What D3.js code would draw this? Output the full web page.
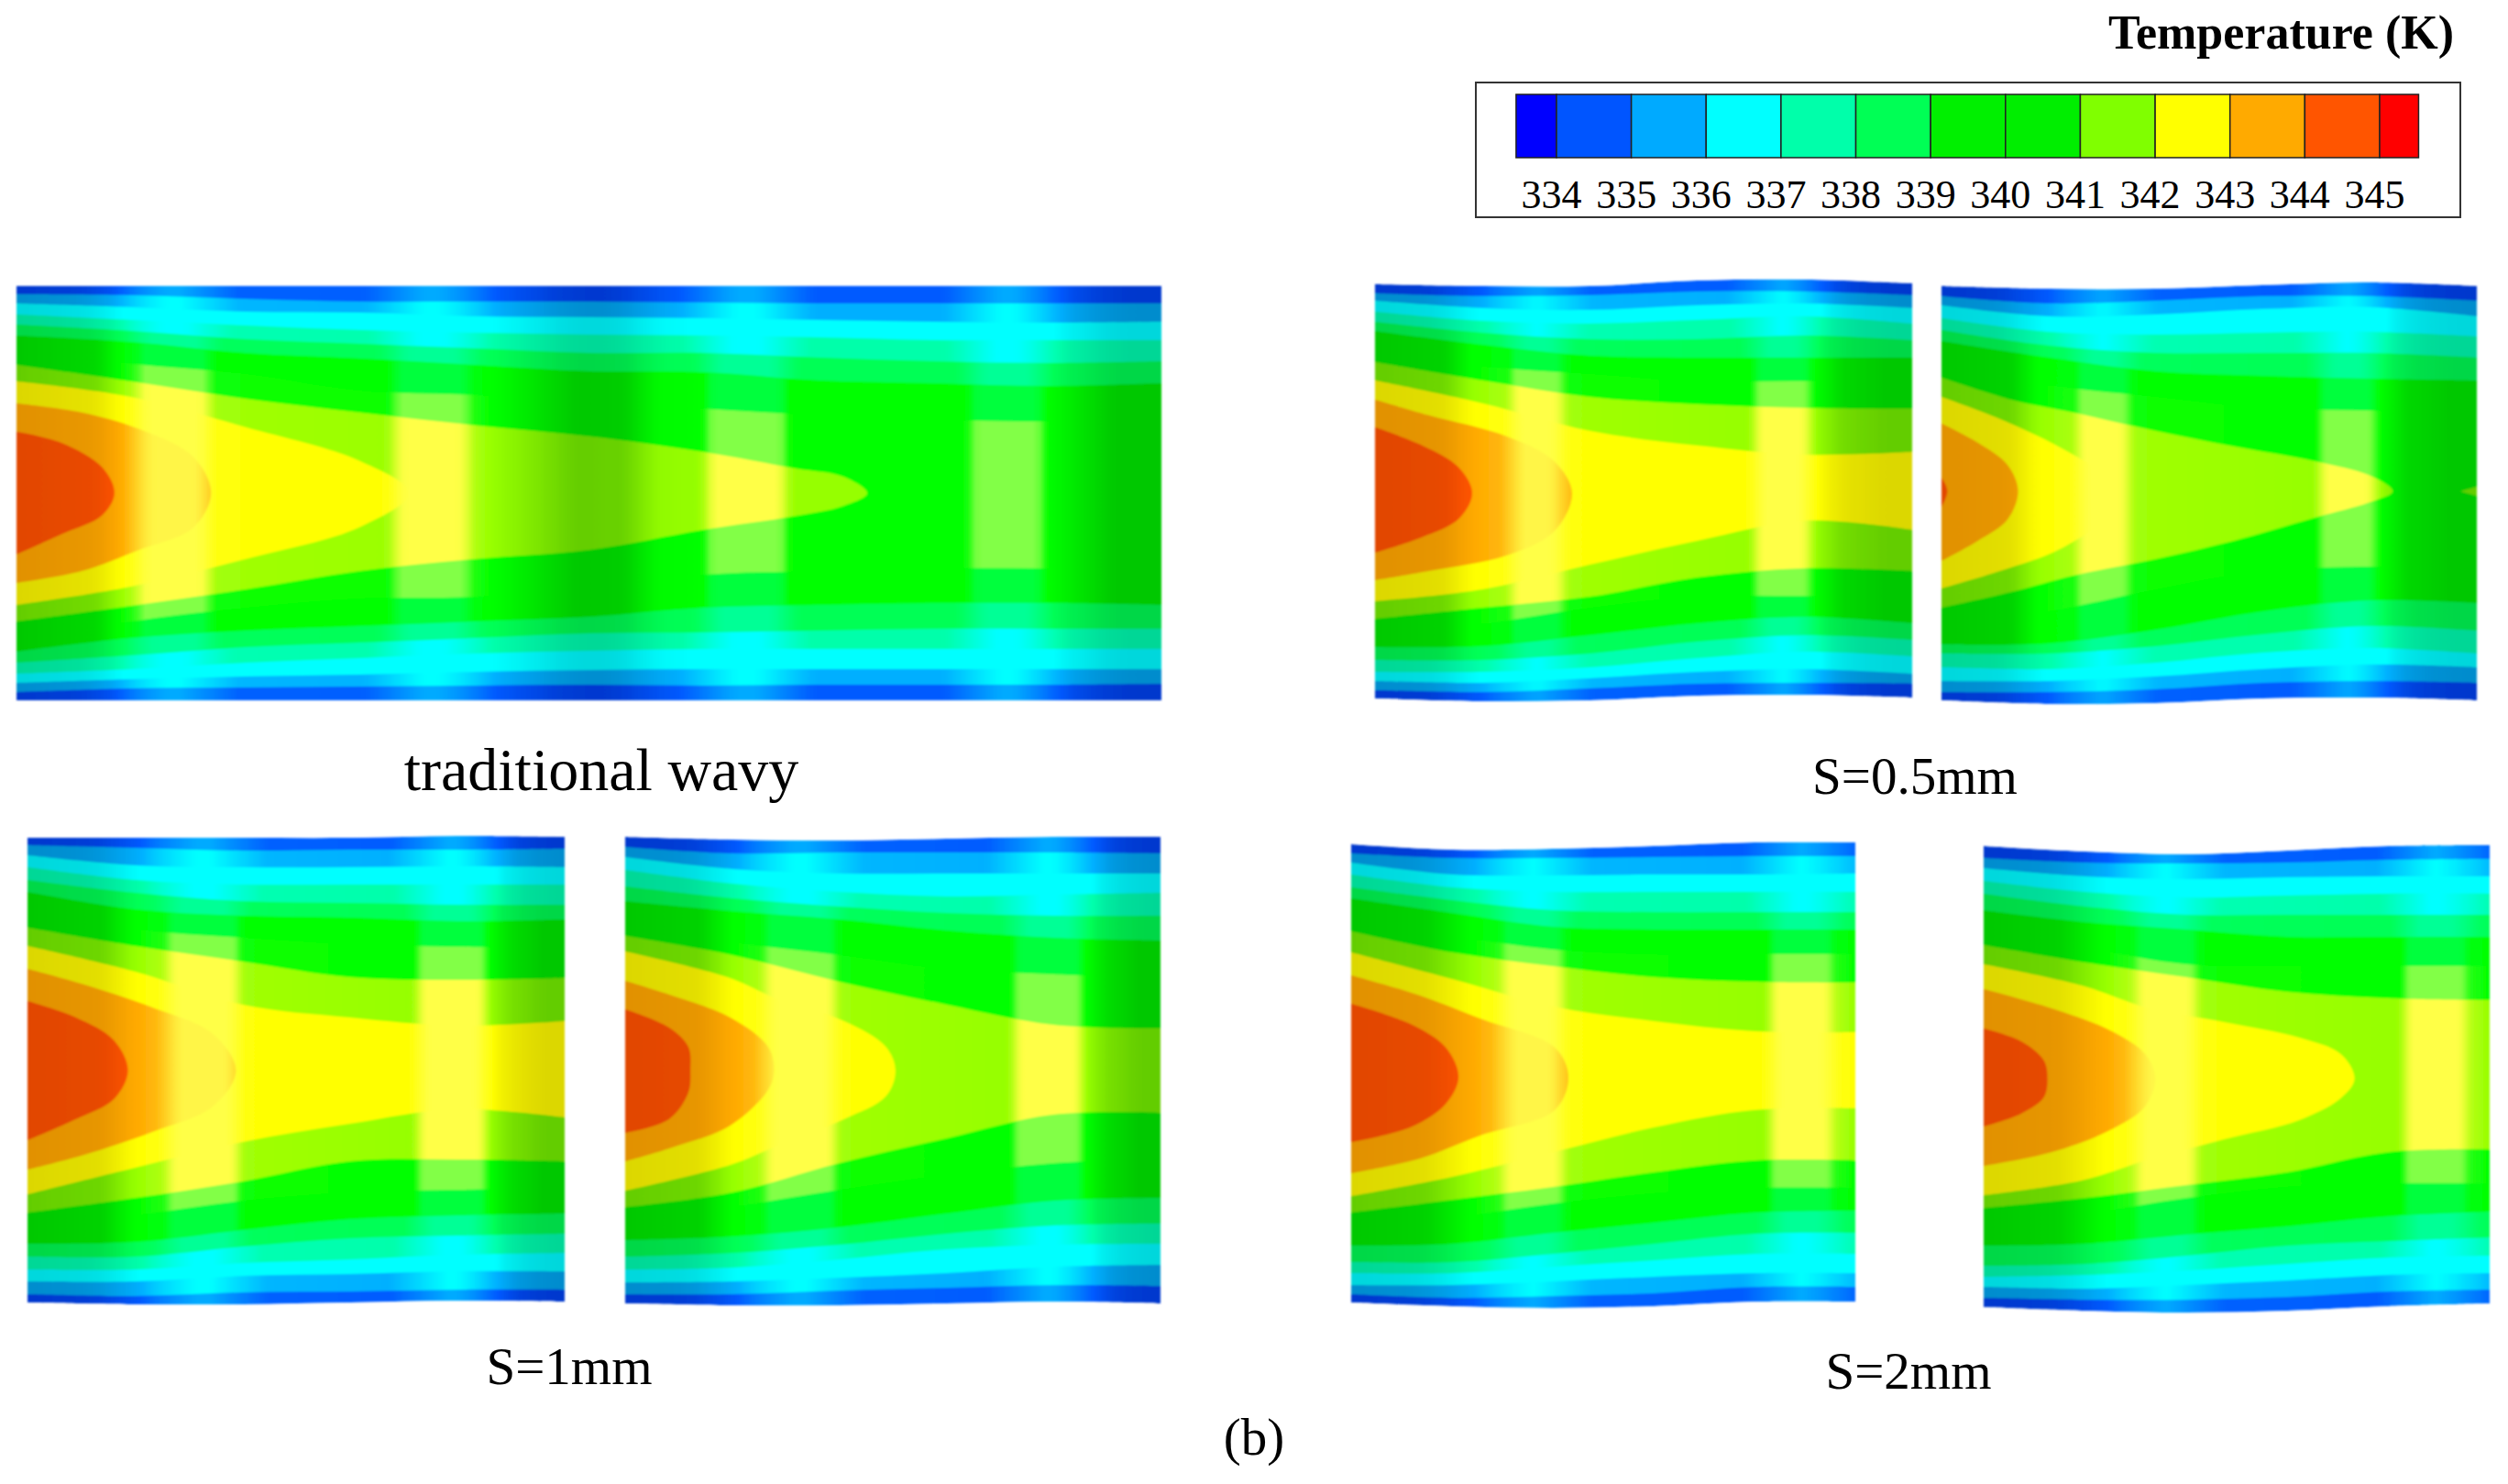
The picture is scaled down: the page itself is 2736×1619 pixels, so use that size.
<!DOCTYPE html>
<html>
<head>
<meta charset="utf-8">
<script src="https://cdn.jsdelivr.net/npm/d3@7"></script>
<style>
  html, body { margin: 0; background: #fff; }
  svg { display: block; }
  text { font-family: "Liberation Serif", serif; fill: #000; }
</style>
</head>
<body>
<div id="chart"></div>
<script>
// temperature legend
const legendEdges = [333.46, 334, 335, 336, 337, 338, 339, 340, 341, 342, 343, 344, 345, 345.52];
const legendColors = ["#0000ff", "#0055ff", "#00aaff", "#00ffff", "#00ffaa", "#00ff55", "#00f000", "#00ee00", "#80ff00", "#ffff00", "#ffaa00", "#ff5500", "#ff0000"];
const legendTicks = [334, 335, 336, 337, 338, 339, 340, 341, 342, 343, 344, 345];

// band colours, outermost (coldest) first: in shadow, flat, lit
const bandShadow = ["#0037cd", "#008ccd", "#00d7dc", "#00d796", "#00d746", "#00c800", "#00c800", "#64cd00", "#dcd700", "#e19100", "#e14600"];
const bandFlat = ["#005aff", "#00afff", "#00ffff", "#00ffaa", "#00ff55", "#00ff00", "#00ff00", "#96ff00", "#ffff00", "#ffaa00", "#ff5500"];
const bandLit = ["#00aaff", "#00ffff", "#00ffff", "#00ffff", "#00ff96", "#00ff3c", "#82ff46", "#ffff46", "#ffff46", "#fff546", "#ffaa00"];
// how far the lighting edge smears in each band, px
const bandSoft = [28, 28, 20, 24, 14, 3, 3, 6, 10, 12, 10];

// stations along the channel (0 = inlet, 1 = outlet)
const xLong = [0, .1, .2, .3, .4, .5, .6, .7, .8, .9, 1];
const xShort = [0, .2, .4, .6, .8, 1];

// each contour: [band, stations, offset above centre line, offset below centre line]
const wavyContours = [
  [0, xLong, [226, 226, 226, 226, 226, 226, 226, 226, 226, 226, 226], [226, 226, 226, 226, 226, 226, 226, 226, 226, 226, 226]],
  [1, xLong, [217, 216, 212, 209, 209, 209, 208, 207, 207, 207, 207], [217, 213, 212, 211, 210, 209, 210, 209, 209, 209, 208]],
  [2, xLong, [207, 203, 198, 197, 193, 192, 191, 189, 187, 186, 187], [207, 203, 200, 198, 195, 193, 192, 192, 192, 192, 192]],
  [3, xLong, [195, 189, 183, 178, 175, 173, 172, 170, 167, 167, 167], [197, 192, 185, 180, 175, 172, 170, 170, 170, 170, 170]],
  [4, xLong, [184, 177, 168, 163, 158, 153, 153, 148, 144, 142, 144], [185, 177, 168, 163, 158, 153, 152, 150, 148, 148, 148]],
  [5, xLong, [172, 165, 153, 147, 140, 133, 132, 123, 120, 117, 120], [173, 158, 150, 145, 140, 135, 125, 122, 120, 120, 122]],
  [6, xLong, [155, 141, 130, 112, 107, 100, 92, 85, 80, 78, 78], [165, 140, 125, 115, 113, 105, 89, 85, 82, 82, 82]],
  [7, [0, .1, .2, .3, .4, .5, .6, .68, .722, .743], [140, 122, 103, 88, 74, 62, 45, 27, 18, 0], [140, 123, 105, 85, 72, 62, 40, 25, 14, 0]],
  [8, [0, .1, .2, .3, .343], [122, 105, 72, 35, 0], [122, 102, 72, 37, 0]],
  [9, [0, .057, .107, .154, .17], [98, 88, 70, 40, 0], [98, 85, 62, 38, 0]],
  [10, [0, .039, .075, .0856], [67, 55, 28, 0], [67, 45, 24, 0]]
];

const s05aContours = [
  [0, xShort, [228, 226, 226, 232, 233, 229], [224, 227, 226, 221, 220, 223]],
  [1, xShort, [218, 215, 216, 220, 220, 216], [215, 217, 213, 208, 207, 208]],
  [2, xShort, [210, 202, 200, 205, 207, 202], [205, 207, 202, 195, 192, 197]],
  [3, xShort, [198, 188, 185, 189, 193, 185], [195, 195, 190, 180, 173, 178]],
  [4, xShort, [187, 175, 168, 168, 172, 167], [182, 182, 175, 162, 155, 160]],
  [5, xShort, [177, 162, 150, 148, 148, 148], [168, 167, 155, 142, 135, 142]],
  [6, xShort, [153, 138, 130, 122, 122, 120], [160, 143, 125, 113, 112, 113]],
  [7, xShort, [143, 123, 105, 97, 93, 92], [137, 125, 113, 92, 82, 85]],
  [8, xShort, [123, 98, 68, 52, 42, 45], [118, 105, 78, 52, 30, 40]],
  [9, [0, .1, .245, .333, .367], [102, 85, 62, 35, 0], [95, 85, 68, 42, 0]],
  [10, [0, .088, .156, .181], [72, 52, 28, 0], [65, 48, 28, 0]]
];

const s05bContours = [
  [0, xShort, [224, 221, 221, 225, 228, 224], [228, 232, 231, 226, 225, 228]],
  [1, xShort, [213, 205, 208, 213, 213, 208], [219, 219, 216, 209, 207, 209]],
  [2, xShort, [203, 191, 193, 199, 201, 191], [207, 207, 202, 194, 189, 192]],
  [3, xShort, [189, 174, 171, 173, 174, 169], [192, 194, 187, 176, 171, 177]],
  [4, xShort, [176, 159, 151, 151, 151, 146], [177, 177, 169, 156, 147, 152]],
  [5, xShort, [164, 146, 131, 126, 123, 121], [167, 166, 151, 131, 119, 122]],
  [6, xShort, [143, 116, 103, 91, 88, 86], [147, 131, 107, 87, 82, 82]],
  [7, [0, .136, .246, .4, .546, .696, .805, .843], [124, 99, 86, 66, 49, 33, 16, 0], [127, 109, 92, 74, 54, 29, 11, 0]],
  [7, [.969, 1], [0, 5], [0, 5]],
  [8, [0, .109, .218, .3, .32], [103, 79, 49, 19, 0], [106, 87, 64, 31, 0]],
  [9, [0, .068, .123, .143], [74, 53, 29, 0], [76, 54, 31, 0]],
  [10, [0, .006, .011], [15, 9, 0], [17, 10, 0]]
];

const s1aContours = [
  [0, xShort, [254, 254, 254, 254, 256, 255], [253, 255, 255, 253, 251, 252]],
  [1, xShort, [246, 243, 240, 241, 241, 242], [244, 246, 242, 241, 239, 239]],
  [2, xShort, [235, 224, 222, 222, 223, 222], [230, 230, 224, 222, 219, 219]],
  [3, xShort, [222, 208, 203, 203, 203, 203], [217, 217, 210, 206, 201, 199]],
  [4, xShort, [208, 194, 185, 183, 181, 181], [203, 203, 192, 183, 180, 178]],
  [5, xShort, [195, 176, 169, 167, 163, 165], [189, 187, 174, 162, 158, 156]],
  [6, xShort, [174, 154, 145, 138, 135, 134], [174, 158, 142, 133, 130, 128]],
  [7, xShort, [156, 136, 119, 102, 99, 101], [155, 139, 121, 99, 97, 99]],
  [8, xShort, [136, 108, 72, 58, 49, 54], [135, 106, 78, 58, 42, 51]],
  [9, [0, .105, .232, .345, .388], [111, 94, 69, 40, 0], [108, 92, 67, 39, 0]],
  [10, [0, .09, .161, .187], [76, 58, 33, 0], [76, 53, 31, 0]]
];

const s1bContours = [
  [0, xShort, [255, 252, 251, 253, 255, 255], [254, 256, 256, 254, 252, 254]],
  [1, xShort, [244, 237, 238, 238, 238, 237], [244, 244, 240, 237, 234, 235]],
  [2, xShort, [233, 220, 215, 215, 215, 215], [231, 230, 226, 221, 214, 212]],
  [3, xShort, [219, 204, 195, 190, 192, 194], [217, 215, 206, 195, 190, 189]],
  [4, xShort, [201, 188, 179, 172, 169, 169], [203, 199, 190, 178, 169, 167]],
  [5, xShort, [185, 174, 165, 153, 145, 142], [185, 181, 171, 156, 142, 139]],
  [6, xShort, [161, 140, 126, 111, 105, 101], [167, 149, 130, 114, 101, 96]],
  [7, xShort, [147, 126, 97, 72, 50, 46], [149, 133, 101, 74, 48, 46]],
  [8, [0, .196, .281, .409, .487, .505], [130, 101, 79, 54, 26, 0], [131, 103, 83, 53, 28, 0]],
  [9, [0, .082, .196, .267, .278], [98, 83, 58, 26, 0], [99, 85, 60, 21, 0]],
  [10, [0, .082, .118, .122], [67, 47, 26, 0], [68, 53, 24, 0]]
];

const s2aContours = [
  [0, xShort, [254, 248, 249, 252, 256, 256], [246, 250, 252, 250, 245, 245]],
  [1, xShort, [244, 239, 239, 240, 241, 241], [237, 241, 239, 236, 229, 229]],
  [2, xShort, [234, 221, 220, 221, 221, 222], [227, 227, 223, 218, 214, 214]],
  [3, xShort, [221, 207, 202, 202, 202, 202], [214, 214, 207, 200, 193, 193]],
  [4, xShort, [207, 193, 182, 180, 180, 180], [202, 202, 193, 182, 171, 170]],
  [5, xShort, [195, 179, 164, 161, 161, 161], [184, 182, 170, 159, 148, 146]],
  [6, xShort, [173, 154, 139, 134, 134, 134], [168, 154, 138, 127, 121, 121]],
  [7, xShort, [159, 136, 121, 109, 104, 103], [148, 134, 120, 104, 91, 91]],
  [8, xShort, [136, 107, 77, 61, 50, 49], [130, 109, 82, 55, 36, 34]],
  [9, [0, .136, .255, .404, .431], [111, 89, 64, 32, 0], [105, 89, 64, 36, 0]],
  [10, [0, .121, .188, .213], [80, 57, 32, 0], [71, 54, 29, 0]]
];

const s2bContours = [
  [0, xShort, [254, 248, 245, 249, 254, 255], [249, 253, 255, 253, 248, 245]],
  [1, xShort, [241, 236, 235, 236, 239, 240], [239, 241, 241, 238, 232, 230]],
  [2, xShort, [230, 221, 218, 220, 221, 221], [227, 229, 225, 220, 214, 212]],
  [3, xShort, [216, 204, 198, 200, 202, 202], [216, 214, 209, 202, 195, 193]],
  [4, xShort, [202, 188, 179, 179, 179, 179], [204, 202, 193, 182, 177, 173]],
  [5, xShort, [184, 171, 163, 155, 155, 155], [182, 180, 170, 161, 150, 145]],
  [6, xShort, [162, 143, 125, 123, 123, 123], [166, 148, 130, 118, 114, 114]],
  [7, xShort, [146, 127, 111, 95, 88, 86], [141, 130, 116, 102, 80, 77]],
  [8, [0, .193, .327, .475, .624, .706, .733], [125, 102, 77, 62, 45, 27, 0], [127, 111, 88, 66, 45, 21, 0]],
  [9, [0, .134, .253, .319, .339], [98, 77, 52, 27, 0], [95, 80, 55, 30, 0]],
  [10, [0, .074, .119, .126], [55, 41, 20, 0], [52, 38, 20, 0]]
];

// surface lighting along the channel: -1 shadow, 0 flat, 1 lit
const wavyShadeX = [0, .07, .09, .105, .11, .165, .172, .325, .335, .39, .4, .44, .49, .53, .56, .6, .607, .668, .675, .83, .838, .892, .9, .93, .96, 1];
const wavyShade = [-1, -.7, 0, .35, 1, 1, .1, .05, 1, 1, .2, -.3, -1, -.9, -.1, 0, 1, 1, 0, 0, 1, 1, 0, -.5, -1, -1];
const s05ShadeX = [0, .13, .18, .25, .26, .34, .36, .7, .715, .8, .82, .87, .95, 1];
const s05Shade = [-1, -.8, 0, .2, 1, 1, .1, 0, 1, 1, 0, -.7, -1, -1];
const s1ShadeX = [0, .14, .2, .255, .27, .385, .4, .72, .735, .845, .86, .9, .96, 1];
const s1Shade = [-1, -.8, 0, .25, 1, 1, .1, 0, 1, 1, 0, -.6, -1, -1];
const s2ShadeX = [0, .15, .24, .295, .31, .41, .43, .825, .84, .945, .96, 1];
const s2Shade = [-1, -.8, 0, .3, 1, 1, .1, 0, 1, 1, .3, 0];

const panels = [
  {contours: wavyContours, shadeX: wavyShadeX, shade: wavyShade, x0: 18, x1: 1267, cy: 538},
  {contours: s05aContours, shadeX: s05ShadeX, shade: s05Shade, x0: 1500, x1: 2086, cy: 538},
  {contours: s05bContours, shadeX: s05ShadeX, shade: s05Shade, x0: 2118, x1: 2702, cy: 536},
  {contours: s1aContours, shadeX: s1ShadeX, shade: s1Shade, x0: 30, x1: 616, cy: 1168},
  {contours: s1bContours, shadeX: s1ShadeX, shade: s1Shade, x0: 682, x1: 1266, cy: 1168},
  {contours: s2aContours, shadeX: s2ShadeX, shade: s2Shade, x0: 1474, x1: 2024, cy: 1175},
  {contours: s2bContours, shadeX: s2ShadeX, shade: s2Shade, x0: 2164, x1: 2716, cy: 1177}
];

const captions = [
  {label: "traditional wavy", x: 656, y: 862, size: 66},
  {label: "S=0.5mm", x: 2089, y: 866, size: 57},
  {label: "S=1mm", x: 621, y: 1510, size: 57},
  {label: "S=2mm", x: 2082, y: 1515, size: 57},
  {label: "(b)", x: 1368, y: 1587, size: 57}
];

const width = 2736, height = 1619;

const svg = d3.select("#chart").append("svg")
    .attr("width", width)
    .attr("height", height);

const defs = svg.append("defs");
defs.append("filter").attr("id", "soft")
    .attr("x", "-2%").attr("y", "-2%").attr("width", "104%").attr("height", "104%")
  .append("feGaussianBlur").attr("stdDeviation", 1.1);

const smooth = d3.curveCatmullRom.alpha(0.5);

panels.forEach((p, pi) => {
  const x = d3.scaleLinear().domain([0, 1]).range([p.x0, p.x1]);
  const y = d3.scaleLinear().domain([-300, 300]).range([p.cy + 300, p.cy - 300]);

  const area = d3.area().curve(smooth)
      .x(d => x(d[0])).y0(d => y(-d[2])).y1(d => y(d[1]));
  const outline = d3.line().curve(smooth).x(d => x(d[0])).y(d => y(d[1]));

  // contour that closes on the centre line gets a rounded nose
  const shapePath = ([, xs, up, down]) => {
    const n = xs.length - 1;
    if (up[n] === 0 && down[n] === 0) {
      const top = xs.map((v, i) => [v, up[i]]);
      const bottom = xs.map((v, i) => [v, -down[i]]).reverse().slice(1);
      return outline(top.concat(bottom)) + "Z";
    }
    return area(xs.map((v, i) => [v, up[i], down[i]]));
  };

  const clipId = `wall-${pi}`;
  defs.append("clipPath").attr("id", clipId)
    .append("path").attr("d", shapePath(p.contours[0]));

  // lighting sampled along the panel, averaged over each band's smear
  const shadeAt = d3.scaleLinear().domain(p.shadeX).range(p.shade).clamp(true);
  const samples = d3.range(0, 1.0001, 1 / 160);

  bandFlat.forEach((flat, b) => {
    const color = d3.scaleLinear().domain([-1, 0, 1]).range([bandShadow[b], flat, bandLit[b]]);
    const w = bandSoft[b] / (p.x1 - p.x0);
    const smeared = t => d3.mean(d3.range(-4, 5), k => shadeAt(t + k / 4 * w));
    defs.append("linearGradient")
        .attr("id", `band-${pi}-${b}`)
        .attr("gradientUnits", "userSpaceOnUse")
        .attr("x1", x(0)).attr("x2", x(1)).attr("y1", 0).attr("y2", 0)
      .selectAll("stop")
      .data(samples)
      .join("stop")
        .attr("offset", d => d)
        .attr("stop-color", d => color(smeared(d)));
  });

  svg.append("g")
      .attr("filter", "url(#soft)")
    .append("g")
      .attr("clip-path", `url(#${clipId})`)
    .selectAll("path")
    .data(p.contours)
    .join("path")
      .attr("d", shapePath)
      .attr("fill", d => `url(#band-${pi}-${d[0]})`);
});

// legend
const legendTop = 103, legendBottom = 172;
const temp = d3.scaleLinear().domain([334, 345]).range([1698, 2596]);

svg.append("rect")
    .attr("x", 1610).attr("y", 90)
    .attr("width", 1074).attr("height", 147)
    .attr("fill", "none")
    .attr("stroke", "#333")
    .attr("stroke-width", 2);

svg.append("g")
    .selectAll("rect")
    .data(legendColors)
    .join("rect")
      .attr("x", (d, i) => temp(legendEdges[i]))
      .attr("y", legendTop)
      .attr("width", (d, i) => temp(legendEdges[i + 1]) - temp(legendEdges[i]))
      .attr("height", legendBottom - legendTop)
      .attr("fill", d => d)
      .attr("stroke", "#222")
      .attr("stroke-width", 1.5);

const legendAxis = svg.append("g")
    .attr("transform", `translate(0,${legendBottom})`)
    .call(d3.axisBottom(temp).tickValues(legendTicks).tickSize(0).tickFormat(d3.format("d")));
legendAxis.select(".domain").remove();
legendAxis.selectAll("text")
    .attr("y", 0)
    .attr("dy", 55)
    .attr("dx", -6)
    .style("font-family", '"Liberation Serif", serif')
    .style("font-size", "44px");

svg.append("text")
    .attr("x", 2677).attr("y", 53)
    .attr("text-anchor", "end")
    .attr("font-weight", "bold")
    .attr("font-size", 52)
    .text("Temperature (K)");

svg.append("g")
    .selectAll("text")
    .data(captions)
    .join("text")
      .attr("x", d => d.x)
      .attr("y", d => d.y)
      .attr("text-anchor", "middle")
      .attr("font-size", d => d.size)
      .text(d => d.label);
</script>
</body>
</html>
